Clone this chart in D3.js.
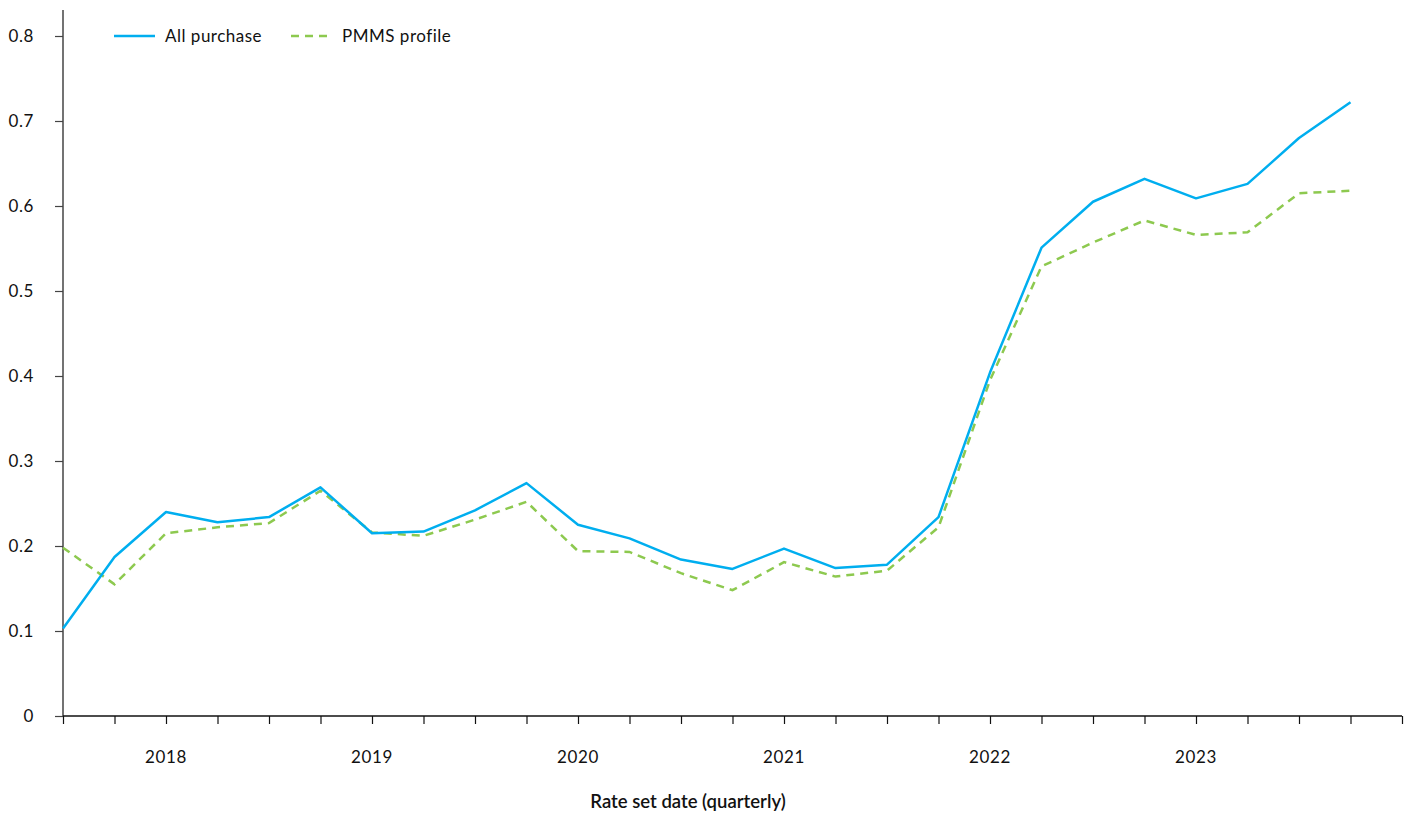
<!DOCTYPE html>
<html>
<head>
<meta charset="utf-8">
<script src="https://cdn.jsdelivr.net/npm/d3@7"></script>
<style>
  html, body { margin: 0; padding: 0; background: #fff; }
  svg { display: block; font-family: Lato, "Open Sans", sans-serif; }
</style>
</head>
<body>
<svg id="chart" width="1416" height="814"></svg>
<script>
const quarters = ["2018Q1","2018Q2","2018Q3","2018Q4","2019Q1","2019Q2","2019Q3","2019Q4",
  "2020Q1","2020Q2","2020Q3","2020Q4","2021Q1","2021Q2","2021Q3","2021Q4",
  "2022Q1","2022Q2","2022Q3","2022Q4","2023Q1","2023Q2","2023Q3","2023Q4","2024Q1","2024Q2"];
const allPurchase = [0.103,0.187,0.240,0.228,0.234,0.269,0.215,0.217,0.242,0.274,0.225,0.209,0.184,0.173,0.197,0.174,0.178,0.234,0.404,0.551,0.605,0.632,0.609,0.626,0.680,0.722];
const pmmsProfile = [0.198,0.155,0.215,0.222,0.227,0.265,0.216,0.212,0.231,0.252,0.194,0.193,0.168,0.148,0.181,0.164,0.171,0.222,0.395,0.529,0.557,0.583,0.566,0.569,0.615,0.618];
const yTicks = [0,0.1,0.2,0.3,0.4,0.5,0.6,0.7,0.8];
const yearLabels = ["2018","2019","2020","2021","2022","2023"];
const seriesNames = ["All purchase","PMMS profile"];

const svg = d3.select("#chart");
const mLeft = 63, mRight = 1402, mTop = 10, mBottom = 716;

const x = d3.scaleLinear().domain([0, quarters.length]).range([mLeft, mRight]);
const y = d3.scaleLinear().domain([0, 0.8]).range([mBottom, 36]);

// Y axis
const yAxis = svg.append("g").attr("transform", `translate(${mLeft},0)`)
  .call(d3.axisLeft(y).tickValues(yTicks).tickSize(8).tickPadding(21)
    .tickFormat(d => d === 0 ? "0" : d3.format(".1f")(d)));
yAxis.select(".domain").attr("d", `M0,${mTop}V${mBottom}`).attr("stroke", "#444").attr("stroke-width", 1.5);
yAxis.selectAll(".tick line").attr("stroke", "#444").attr("stroke-width", 1.2);
yAxis.selectAll(".tick text").attr("font-size", 17).attr("letter-spacing", 0.6)
  .attr("fill", "#111").attr("font-family", "Lato, sans-serif");

// X axis
const xAxis = svg.append("g").attr("transform", `translate(0,${mBottom})`)
  .call(d3.axisBottom(x).tickValues(d3.range(0, quarters.length + 1)).tickSize(8).tickFormat(""));
xAxis.select(".domain").attr("d", `M${mLeft},0H${mRight}`).attr("stroke", "#111").attr("stroke-width", 1.5);
xAxis.selectAll(".tick line").attr("stroke", "#111").attr("stroke-width", 1.2);

// Year labels
svg.append("g").selectAll("text").data(yearLabels).join("text")
  .attr("x", (d, i) => x(2 + 4 * i))
  .attr("y", 763)
  .attr("text-anchor", "middle")
  .attr("font-size", 17)
  .attr("letter-spacing", 0.6)
  .attr("fill", "#111")
  .text(d => d);

// Axis title
svg.append("text")
  .attr("x", 688).attr("y", 808)
  .attr("text-anchor", "middle")
  .attr("font-size", 18.5)
  .attr("font-weight", 600)
  .attr("fill", "#111")
  .text("Rate set date (quarterly)");

// Lines
const line = d3.line().x((d, i) => x(i)).y(d => y(d));
svg.append("path").datum(pmmsProfile)
  .attr("d", line).attr("fill", "none")
  .attr("stroke", "#8DC94F").attr("stroke-width", 2.5)
  .attr("stroke-dasharray", "8,6");
svg.append("path").datum(allPurchase)
  .attr("d", line).attr("fill", "none")
  .attr("stroke", "#00AEEF").attr("stroke-width", 2.5)
  .attr("stroke-linejoin", "round");

// Legend
const legend = svg.append("g");
const lg = [
  {name: seriesNames[0], color: "#00AEEF", dash: null, x0: 114},
  {name: seriesNames[1], color: "#8DC94F", dash: "8,6", x0: 291}
];
lg.forEach(d => {
  legend.append("line").attr("x1", d.x0).attr("x2", d.x0 + 41).attr("y1", 36).attr("y2", 36)
    .attr("stroke", d.color).attr("stroke-width", 2.5).attr("stroke-dasharray", d.dash);
  legend.append("text").attr("x", d.x0 + 51).attr("y", 42)
    .attr("font-size", 17).attr("letter-spacing", 0.5).attr("fill", "#111").text(d.name);
});
</script>
</body>
</html>
